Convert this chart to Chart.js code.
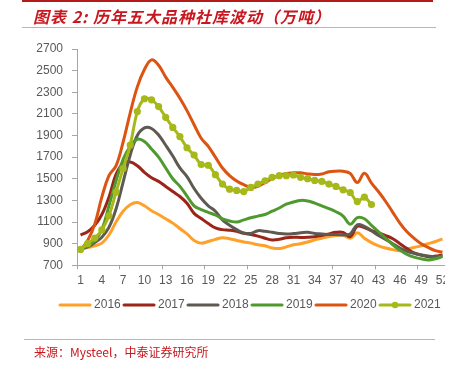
<!DOCTYPE html>
<html>
<head>
<meta charset="utf-8">
<script src="https://cdn.jsdelivr.net/npm/chart.js@4.4.0/dist/chart.umd.min.js"></script>
<style>
html, body { margin: 0; padding: 0; background: #fff; }
#wrap { position: relative; width: 455px; height: 367px; overflow: hidden; }
#topbar { position: absolute; left: 22px; top: 0; width: 411px; height: 2px; background: #b31b1b; }
#title { position: absolute; left: 33px; top: 4px; font: italic bold 16px "Noto Sans CJK SC"; color: #c8171e; white-space: nowrap; letter-spacing: 1px; }
#rule1 { position: absolute; left: 22px; top: 27px; width: 414px; height: 1px; background: #e3a3a3; }
#rule2 { position: absolute; left: 24px; top: 339px; width: 411px; height: 1px; background: #e3a3a3; }
#source { position: absolute; left: 34px; top: 343px; font: 12px "Noto Sans CJK SC"; color: #c8171e; white-space: nowrap; }
#mask { position: absolute; left: 445px; top: 30px; width: 10px; height: 265px; background: #fff; }
canvas { position: absolute; left: 0; top: 0; }
</style>
</head>
<body>
<div id="wrap">
  <canvas id="chart" width="455" height="367"></canvas>
  <div id="mask"></div>
  <div id="topbar"></div>
  <div id="title">图表 2:  历年五大品种社库波动（万吨）</div>
  <div id="rule1"></div>
  <div id="rule2"></div>
  <div id="source">来源：Mysteel，中泰证券研究所</div>
</div>
<script>
// semanas 1..52
const semanas = ['1','2','3','4','5','6','7','8','9','10','11','12','13','14','15','16','17','18','19','20',
  '21','22','23','24','25','26','27','28','29','30','31','32','33','34','35','36','37','38','39','40',
  '41','42','43','44','45','46','47','48','49','50','51','52'];

const s2016 = [850, 865, 880, 905, 980, 1100, 1200, 1260, 1280, 1250, 1205, 1170, 1130, 1090, 1040, 990, 930, 905, 920, 940,
  955, 945, 930, 915, 905, 890, 880, 860, 855, 870, 890, 900, 915, 935, 950, 965, 975, 980, 950, 1000,
  950, 910, 880, 860, 845, 835, 850, 865, 880, 900, 920, 945];
const s2017 = [980, 1010, 1070, 1170, 1330, 1540, 1640, 1655, 1620, 1560, 1510, 1476, 1429, 1382, 1336, 1273, 1180, 1133, 1086, 1045,
  1030, 1025, 1015, 995, 985, 970, 950, 935, 940, 955, 960, 958, 960, 965, 975, 990, 1005, 1005, 965, 1060,
  1050, 1020, 1000, 975, 945, 900, 855, 815, 795, 780, 785, 795];
const s2018 = [850, 870, 910, 960, 1050, 1220, 1470, 1720, 1900, 1970, 1965, 1905, 1810, 1710, 1600, 1520, 1410, 1320, 1250, 1200,
  1120, 1070, 1030, 1000, 995, 1020, 1015, 1005, 995, 990, 993, 1000, 1005, 995, 990, 985, 985, 980, 990, 1075,
  1060, 1020, 975, 940, 900, 860, 830, 810, 795, 785, 780, 785];
const s2019 = [850, 880, 930, 1030, 1250, 1480, 1680, 1800, 1865, 1845, 1775, 1700, 1600, 1500, 1430, 1340, 1250, 1215, 1190, 1165,
  1130, 1110, 1100, 1120, 1140, 1155, 1170, 1200, 1230, 1265, 1285, 1300, 1295, 1275, 1250, 1225, 1195, 1155, 1080, 1140,
  1130, 1070, 1010, 950, 890, 840, 800, 775, 760, 750, 760, 780];
const s2020 = [840, 930, 1080, 1330, 1530, 1620, 1840, 2110, 2350, 2510, 2600, 2550, 2440, 2345, 2245, 2130, 2000, 1875, 1800, 1700,
  1600, 1530, 1480, 1445, 1420, 1430, 1465, 1500, 1530, 1550, 1555, 1555, 1545, 1540, 1545, 1565, 1570, 1570, 1550, 1465,
  1550, 1460, 1380, 1290, 1190, 1090, 1010, 950, 900, 865, 835, 820];
const s2021 = [847, 900, 952, 1027, 1158, 1376, 1595, 1812, 2121, 2240, 2230, 2168, 2068, 1975, 1890, 1787, 1719, 1632, 1625, 1538,
  1451, 1404, 1392, 1382, 1420, 1451, 1482, 1513, 1529, 1529, 1535, 1513, 1501, 1485, 1476, 1451, 1429, 1398, 1373, 1289,
  1330, 1262];

const anios = ['2016', '2017', '2018', '2019', '2020', '2021'];
const series = [s2016, s2017, s2018, s2019, s2020, s2021];
const colores = ['#ffa128', '#9c2519', '#5f5a51', '#4f9a2f', '#dc5412', '#a6b81a'];

// marca de leyenda: línea (y punto para 2021)
function marcaLeyenda(color, punto) {
    const c = document.createElement('canvas');
    c.width = 34; c.height = 8;
    const g = c.getContext('2d');
    g.strokeStyle = color; g.lineWidth = 3; g.lineCap = 'round';
    g.beginPath(); g.moveTo(2, 4); g.lineTo(32, 4); g.stroke();
    if (punto) {
        g.fillStyle = color;
        g.beginPath(); g.arc(17, 4, 3.2, 0, Math.PI * 2); g.fill();
    }
    return c;
}
const marcas = colores.map((c, i) => marcaLeyenda(c, i === 5));

const datasets = anios.map((a, i) => ({
    label: a,
    data: series[i],
    borderColor: colores[i],
    backgroundColor: colores[i],
    borderWidth: 3,
    tension: i === 5 ? 0.3 : 0.4,
    pointRadius: i === 5 ? 3.6 : 0,
    pointHoverRadius: i === 5 ? 3.6 : 0,
    pointBorderWidth: 0,
    order: 6 - i
}));

new Chart(document.getElementById('chart').getContext('2d'), {
    type: 'line',
    data: { labels: semanas, datasets: datasets },
    options: {
        responsive: false,
        animation: false,
        layout: { padding: { left: 32, right: 9, top: 49, bottom: 46 } },
        plugins: {
            tooltip: { enabled: false },
            legend: {
                position: 'bottom',
                align: 'end',
                labels: {
                    usePointStyle: true,
                    pointStyleWidth: 26,
                    padding: 5.3,
                    color: '#595959',
                    font: { family: 'Liberation Sans', size: 12 },
                    sort: (a, b) => a.datasetIndex - b.datasetIndex,
                    generateLabels(chart) {
                        const items = Chart.defaults.plugins.legend.labels.generateLabels(chart);
                        items.forEach(it => { it.pointStyle = marcas[it.datasetIndex]; });
                        return items;
                    }
                }
            }
        },
        scales: {
            x: {
                offset: true,
                afterFit: scale => { scale.height += 2; },
                grid: {
                    offset: true,
                    drawOnChartArea: false,
                    tickLength: 4,
                    color: ctx => (ctx.index % 6 === 0 ? '#a6a6a6' : 'rgba(0,0,0,0)')
                },
                border: { color: '#a6a6a6', width: 1 },
                ticks: {
                    autoSkip: false,
                    maxRotation: 0,
                    minRotation: 0,
                    padding: 4,
                    color: '#595959',
                    font: { family: 'Liberation Sans', size: 12 },
                    callback: function (v, i) { return i % 3 === 0 ? this.getLabelForValue(v) : ''; }
                }
            },
            y: {
                min: 700,
                max: 2700,
                afterFit: scale => { scale.width = 45; },
                grid: { drawOnChartArea: false, tickLength: 5, color: '#a6a6a6' },
                border: { color: '#a6a6a6', width: 1 },
                ticks: {
                    stepSize: 200,
                    padding: 9,
                    color: '#595959',
                    font: { family: 'Liberation Sans', size: 12 },
                    callback: v => String(v)
                }
            }
        }
    }
});
</script>
</body>
</html>
